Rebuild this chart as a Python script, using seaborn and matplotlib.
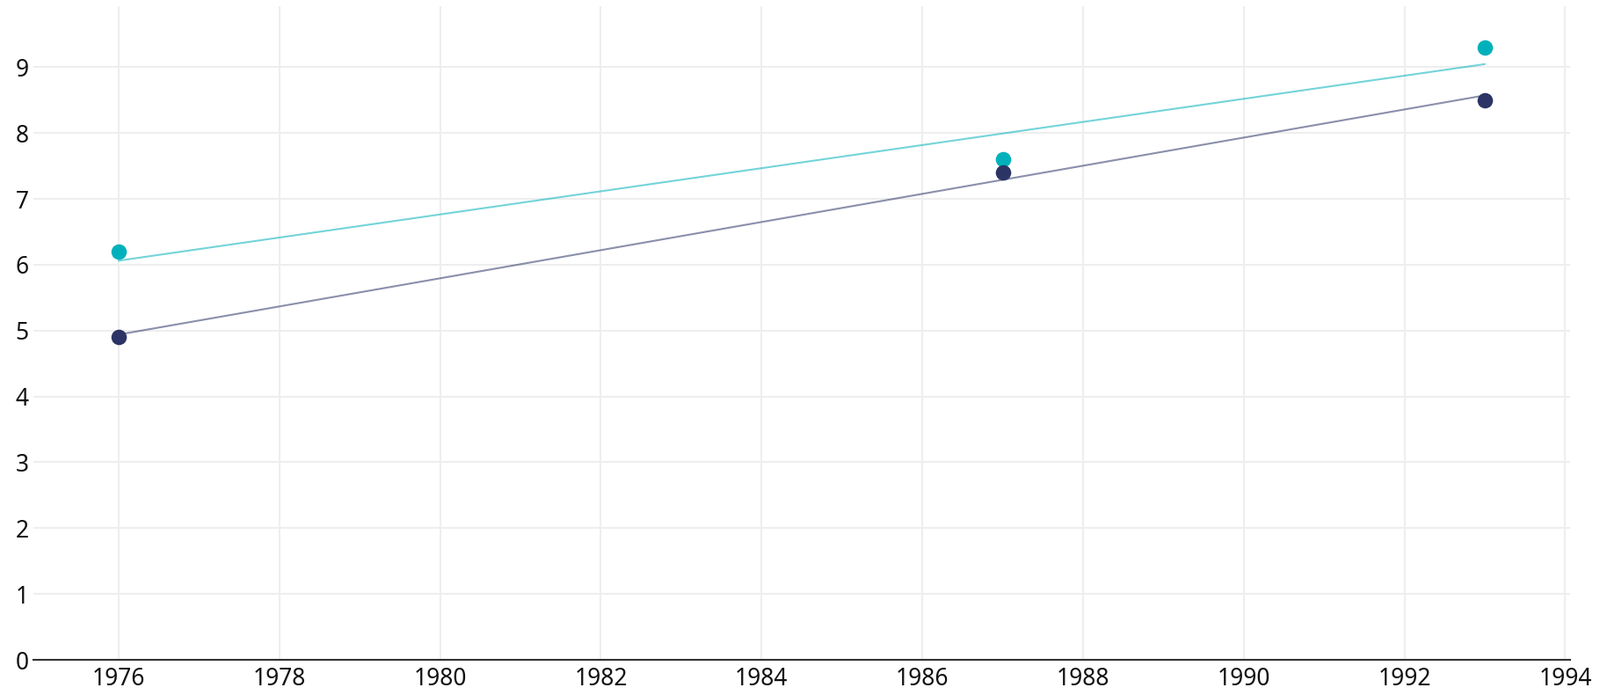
import numpy as np
import pandas as pd
import matplotlib
matplotlib.use('Agg')
import matplotlib.pyplot as plt
import seaborn as sns

# Data
years = [1976, 1987, 1993]
teal_values = [6.2, 7.6, 9.3]
navy_values = [4.9, 7.4, 8.5]

teal = '#00b1bb'
navy = '#2b3465'

sns.set_style('white')
plt.rcParams['font.family'] = ['Noto Sans', 'DejaVu Sans']

fig = plt.figure(figsize=(18.2, 7.9), dpi=100)
ax = fig.add_axes([0.0209, 0.0506, 0.9604, 0.9409])

df = pd.DataFrame({'year': years, 'teal': teal_values, 'navy': navy_values})

# trend lines + points
sns.regplot(data=df, x='year', y='teal', ci=None, ax=ax, truncate=True,
            scatter_kws={'s': 160, 'color': teal, 'alpha': 1, 'zorder': 4, 'linewidths': 0},
            line_kws={'color': teal, 'alpha': 0.55, 'lw': 1.5, 'zorder': 3})
sns.regplot(data=df, x='year', y='navy', ci=None, ax=ax, truncate=True,
            scatter_kws={'s': 160, 'color': navy, 'alpha': 1, 'zorder': 5, 'linewidths': 0},
            line_kws={'color': navy, 'alpha': 0.55, 'lw': 1.5, 'zorder': 3})

ax.set_xlim(1974.94, 1994.06)
ax.set_ylim(0, 9.93)
ax.set_xticks(range(1976, 1995, 2))
ax.set_yticks(range(0, 10))
ax.set_xlabel('')
ax.set_ylabel('')

ax.grid(True, color='#eeeeee', lw=1.5)
ax.set_axisbelow(True)
for side in ['top', 'right', 'left']:
    ax.spines[side].set_visible(False)
ax.spines['bottom'].set_color('#333333')
ax.spines['bottom'].set_linewidth(1.5)
ax.tick_params(axis='both', length=0, labelsize=19, colors='#111111')
ax.tick_params(axis='y', pad=4)
ax.tick_params(axis='x', pad=6)

fig.savefig('out.png', dpi=100)
